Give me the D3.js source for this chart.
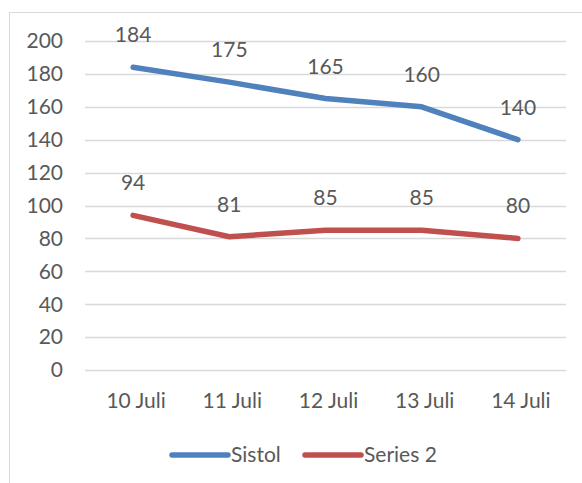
<!DOCTYPE html>
<html>
<head>
<meta charset="utf-8">
<script src="https://cdn.jsdelivr.net/npm/d3@7"></script>
<style>
  body { margin: 0; background: #fff; }
  text { font-family: Lato, "Open Sans", sans-serif; fill: #595959; }
</style>
</head>
<body>
<div id="chart"></div>
<script>
const categories = ["10 Juli", "11 Juli", "12 Juli", "13 Juli", "14 Juli"];
const sistol = [184, 175, 165, 160, 140];
const series2 = [94, 81, 85, 85, 80];
const yTicks = [0, 20, 40, 60, 80, 100, 120, 140, 160, 180, 200];
const seriesNames = ["Sistol", "Series 2"];

const drawChart = ()=>{
  const width = 582;
  const height = 483;
  const fontSize = 21;
  const colors = ["#4F81BD", "#C0504D"];
  const allSeries = [sistol, series2];

  const x = d3.scalePoint()
      .domain(categories)
      .range([85, 566])
      .padding(0.5);

  const y = d3.scaleLinear()
      .domain([0, 200])
      .range([370, 41]);

  const svg = d3.select("#chart")
      .append("svg")
      .attr("width", width)
      .attr("height", height);

  // chart border
  svg.append("rect")
      .attr("x", 9.5).attr("y", 12.5)
      .attr("width", width).attr("height", height)
      .attr("fill", "none")
      .attr("stroke", "#d9d9d9");

  svg.append("g")
      .selectAll("line")
      .data(yTicks)
      .join("line")
      .attr("x1", 85).attr("x2", 566)
      .attr("y1", d => Math.round(y(d)) + 0.5)
      .attr("y2", d => Math.round(y(d)) + 0.5)
      .attr("stroke", "#d9d9d9")
      .attr("stroke-width", 1.5);

  svg.append("g")
      .selectAll("text")
      .data(yTicks)
      .join("text")
      .attr("x", 63)
      .attr("y", d => y(d))
      .attr("dy", "0.35em")
      .attr("text-anchor", "end")
      .attr("font-size", fontSize)
      .text(d => d);

  svg.append("g")
      .selectAll("text")
      .data(categories)
      .join("text")
      .attr("x", d => x(d) + 3)
      .attr("y", 408)
      .attr("text-anchor", "middle")
      .attr("font-size", fontSize)
      .text(d => d);

  const line = d3.line()
      .x((d, i) => x(categories[i]))
      .y(d => y(d));

  allSeries.forEach((s, k) => {
    svg.append("path")
        .datum(s)
        .attr("d", line)
        .attr("fill", "none")
        .attr("stroke", colors[k])
        .attr("stroke-width", 5.5)
        .attr("stroke-linecap", "round")
        .attr("stroke-linejoin", "round");

    svg.append("g")
        .selectAll("text")
        .data(s)
        .join("text")
        .attr("x", (d, i) => x(categories[i]))
        .attr("y", d => y(d) - 25)
        .attr("text-anchor", "middle")
        .attr("font-size", fontSize)
        .text(d => d);
  });

  // legend
  const legend = [{x: 172}, {x: 305}];
  legend.forEach((l, k) => {
    svg.append("line")
        .attr("x1", l.x).attr("x2", l.x + 56)
        .attr("y1", 455).attr("y2", 455)
        .attr("stroke", colors[k])
        .attr("stroke-width", 5.5)
        .attr("stroke-linecap", "round");
    svg.append("text")
        .attr("x", l.x + 59)
        .attr("y", 455)
        .attr("dy", "0.35em")
        .attr("font-size", fontSize)
        .text(seriesNames[k]);
  });
};

window.onload = drawChart;
</script>
</body>
</html>
